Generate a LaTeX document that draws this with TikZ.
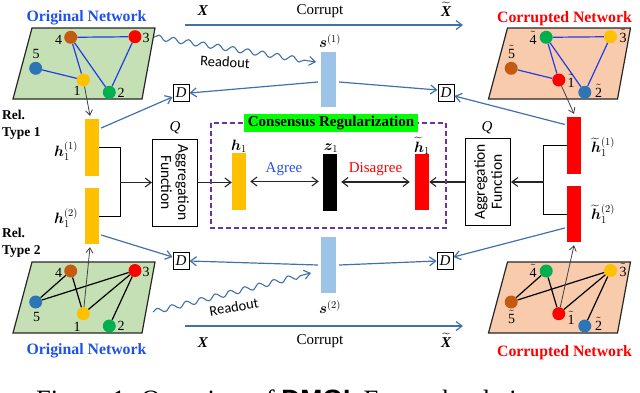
\RequirePackage{fix-cm}
\documentclass[tikz,border=0pt]{standalone}
\usepackage{amsmath}
\usepackage{bm}
\usepackage{fontspec}
\setmainfont{Liberation Serif}
\newfontfamily\calib{Carlito}
\newfontfamily\helv{Liberation Sans}
\usetikzlibrary{arrows.meta,decorations.pathmorphing,calc}
\definecolor{tblue}{RGB}{30,80,235}
\definecolor{arblue}{RGB}{65,113,170}
\definecolor{gfill}{RGB}{197,224,180}
\definecolor{sfill}{RGB}{248,203,173}
\definecolor{nbrown}{RGB}{197,90,17}
\definecolor{nblue}{RGB}{46,117,182}
\definecolor{nyel}{RGB}{255,192,0}
\definecolor{ngreen}{RGB}{0,176,80}
\definecolor{sblue}{RGB}{157,195,230}
\definecolor{cpurple}{RGB}{112,48,160}
\definecolor{edgeblue}{RGB}{35,60,230}
\definecolor{cgreen}{RGB}{0,255,0}
\definecolor{agblue}{RGB}{40,80,235}
\begin{document}
\begin{tikzpicture}[x=1pt,y=-1pt,
  every node/.style={inner sep=0pt},
  gn/.style={circle, fill=#1, minimum size=13pt, inner sep=0pt},
  lab/.style={font=\fontsize{14}{14}\selectfont, anchor=base},
  para/.style={draw=black!85, line width=1.2pt, line join=miter},
  ebl/.style={draw=edgeblue, line width=1.2pt},
  ebk/.style={draw=black, line width=1.2pt},
  vbar/.style={fill=#1, minimum width=14pt, inner sep=0pt},
  dbox/.style={draw, line width=1pt, minimum width=16pt, minimum height=17pt, font=\fontsize{15}{15}\selectfont\itshape},
  agg/.style={draw, line width=1pt, minimum width=87pt, minimum height=45pt, align=center, font=\calib\fontsize{15.5}{17}\selectfont},
  barr/.style={draw=arblue, line width=1.2pt, -{Straight Barb[length=6pt,width=9pt]}},
  karr/.style={draw=black!85, line width=1.1pt, -{Straight Barb[length=6pt,width=9pt]}},
  kbarr/.style={draw=black!85, line width=1.1pt, {Straight Barb[length=6pt,width=9pt]}-{Straight Barb[length=6pt,width=9pt]}},
  narr/.style={draw=black!75, line width=0.8pt, -{Straight Barb[length=5pt,width=7pt]}},
  wavy/.style={draw=arblue, line width=1.1pt, decorate, decoration={snake, amplitude=2.6pt, segment length=15pt, post length=6pt}, -{Straight Barb[length=6pt,width=9pt]}},
  mth/.style={font=\fontsize{15}{18}\selectfont},
  ttl/.style={font=\bfseries\fontsize{15.8}{18}\selectfont, anchor=base},
  rel/.style={font=\bfseries\fontsize{13.5}{15}\selectfont, anchor=base west},
  std/.style={font=\fontsize{15}{15}\selectfont, anchor=base},
]
\useasboundingbox (0,0) rectangle (640,392);
\clip (0,0) rectangle (640,392);

% ---------- top-left original network ----------
\draw[para, fill=gfill] (32,28) -- (155,28) -- (142,99) -- (13,99) -- cycle;
\node[gn=nbrown] (a4) at (70.7,37.3) {};
\node[gn=red] (a3) at (135,36.7) {};
\node[gn=nblue] (a5) at (35.7,68.3) {};
\node[gn=nyel] (a1) at (83.3,80) {};
\node[gn=ngreen] (a2) at (109.3,92.3) {};
\draw[ebl] (a4) -- (a3) (a4) -- (a1) (a4) -- (a2) (a3) -- (a2) (a5) -- (a1);
\node[lab] (a4l) at (58.5,44) {4};
\node[lab] (a3l) at (146,42) {3};
\node[lab] (a5l) at (36,58) {5};
\node[lab] (a1l) at (77,95) {1};
\node[lab] (a2l) at (121,97) {2};
\node[ttl, text=tblue] (t1) at (86.5,21.5) {Original Network};

% ---------- top-right corrupted network ----------
\draw[para, fill=sfill] (507.5,28) -- (630.5,28) -- (617.5,99) -- (488.5,99) -- cycle;
\node[gn=ngreen] (b4) at (546.2,37.3) {};
\node[gn=nyel] (b3) at (610.5,36.7) {};
\node[gn=nbrown] (b5) at (511.2,68.3) {};
\node[gn=red] (b1) at (558.8,80) {};
\node[gn=nblue] (b2) at (584.8,92.3) {};
\draw[ebl] (b4) -- (b3) (b4) -- (b1) (b4) -- (b2) (b3) -- (b2) (b5) -- (b1);
\node[lab] (b4l) at (533,44) {$\tilde{\text{4}}$};
\node[lab] (b3l) at (623,42) {$\tilde{\text{3}}$};
\node[lab] (b5l) at (511.5,58) {$\tilde{\text{5}}$};
\node[lab] (b1l) at (571,87) {$\tilde{\text{1}}$};
\node[lab] (b2l) at (598.5,97) {$\tilde{\text{2}}$};
\node[ttl, text=red] (t2) at (564.5,22) {Corrupted Network};

% ---------- bottom-left original network ----------
\draw[para, fill=gfill] (32,262) -- (155,262) -- (142,333) -- (13,333) -- cycle;
\node[gn=nbrown] (c4) at (70.7,271) {};
\node[gn=red] (c3) at (135,270.5) {};
\node[gn=nblue] (c5) at (35.7,302) {};
\node[gn=nyel] (c1) at (83.3,313.7) {};
\node[gn=ngreen] (c2) at (109.3,326) {};
\draw[ebk] (c4) -- (c5) (c4) -- (c1) (c5) -- (c3) (c1) -- (c3) (c2) -- (c3);
\node[lab] (c4l) at (58.5,277) {4};
\node[lab] (c3l) at (146,276) {3};
\node[lab] (c5l) at (36.5,321) {5};
\node[lab] (c1l) at (77,331) {1};
\node[lab] (c2l) at (121,330) {2};
\node[ttl, text=tblue] (t3) at (86.5,354) {Original Network};

% ---------- bottom-right corrupted network ----------
\draw[para, fill=sfill] (507.5,262) -- (630.5,262) -- (617.5,333) -- (488.5,333) -- cycle;
\node[gn=ngreen] (d4) at (546.2,271) {};
\node[gn=nyel] (d3) at (610.5,270.5) {};
\node[gn=nbrown] (d5) at (511.2,302) {};
\node[gn=red] (d1) at (558.8,313.7) {};
\node[gn=nblue] (d2) at (584.8,326) {};
\draw[ebk] (d4) -- (d5) (d4) -- (d1) (d5) -- (d3) (d1) -- (d3) (d2) -- (d3);
\node[lab] (d4l) at (533,277) {$\tilde{\text{4}}$};
\node[lab] (d3l) at (623,276) {$\tilde{\text{3}}$};
\node[lab] (d5l) at (511.5,323) {$\tilde{\text{5}}$};
\node[lab] (d1l) at (571,324) {$\tilde{\text{1}}$};
\node[lab] (d2l) at (598.5,330) {$\tilde{\text{2}}$};
\node[ttl, text=red] (t4) at (564.5,356) {Corrupted Network};

% ---------- corrupt arrows ----------
\coordinate (xa1) at (185,25); \coordinate (xb1) at (463,25);
\draw[barr] (xa1) -- (xb1);
\node[std, font=\fontsize{15}{15}\selectfont\bfseries\itshape] (X1) at (203,15) {X};
\node[std] (cor1) at (320,14) {Corrupt};
\node[std] (Xt1) at (446,16) {$\widetilde{\text{\bfseries\itshape X}}$};
\coordinate (xa2) at (185,326); \coordinate (xb2) at (463,326);
\draw[barr] (xa2) -- (xb2);
\node[std, font=\fontsize{15}{15}\selectfont\bfseries\itshape] (X2) at (203,347) {X};
\node[std] (cor2) at (320,344) {Corrupt};
\node[std] (Xt2) at (446,347) {$\widetilde{\text{\bfseries\itshape X}}$};

% ---------- summary vectors ----------
\node[vbar=sblue, minimum width=15pt, minimum height=55pt] (s1) at (328.5,79.5) {};
\node[mth] (s1l) at (330,41) {$\bm{s}^{(1)}$};
\node[vbar=sblue, minimum width=15pt, minimum height=56pt] (s2) at (328.5,265) {};
\node[mth] (s2l) at (330,307) {$\bm{s}^{(2)}$};

\coordinate (r1s) at (154,37); \coordinate (r1e) at (316,62);
\draw[wavy] (r1s) -- (r1e);
\node[font=\calib\fontsize{14.5}{15}\selectfont, rotate=-3] (rd1) at (225,62) {Readout};
\coordinate (r2s) at (153,312); \coordinate (r2e) at (311,273);
\draw[wavy] (r2s) -- (r2e);
\node[font=\calib\fontsize{14.5}{15}\selectfont, rotate=10] (rd2) at (234,307) {Readout};

% ---------- discriminators ----------
\node[dbox] (DL1) at (181,93) {D};
\node[dbox] (DR1) at (446,93) {D};
\node[dbox] (DL2) at (181,261) {D};
\node[dbox] (DR2) at (445,261) {D};

% ---------- embedding bars ----------
\node[vbar=nyel, minimum height=57pt] (y1) at (92,147.5) {};
\node[vbar=nyel, minimum height=56pt] (y2) at (92,216) {};
\node[vbar=red, minimum height=57pt] (r1) at (574,145.5) {};
\node[vbar=red, minimum height=56pt] (r2) at (574,214) {};
\node[vbar=nyel, minimum height=57pt] (h1) at (239,181.5) {};
\node[vbar=black, minimum height=57pt] (z1) at (330,182.5) {};
\node[vbar=red, minimum height=56pt] (ht) at (422,182) {};

\node[mth] (y1l) at (66,151) {$\bm{h}_1^{(1)}$};
\node[mth] (y2l) at (66,218) {$\bm{h}_1^{(2)}$};
\node[mth] (r1l) at (603,147) {$\widetilde{\bm{h}}_1^{(1)}$};
\node[mth] (r2l) at (603,214) {$\widetilde{\bm{h}}_1^{(2)}$};
\node[mth] (h1l) at (239,146) {$\bm{h}_1$};
\node[mth] (z1l) at (331,148) {$\bm{z}_1$};
\node[mth] (htl) at (422,146) {$\widetilde{\bm{h}}_1$};

\node[rel] (rel1a) at (2,119.5) {Rel.};
\node[rel] (rel1b) at (2,136.5) {Type 1};
\node[rel] (rel2a) at (2,237) {Rel.};
\node[rel] (rel2b) at (2,254) {Type 2};

% ---------- network to bars ----------
\draw[narr] (a1) -- ([xshift=-2pt,yshift=3pt]y1.north);
\draw[narr] (c1) -- ([xshift=-2pt,yshift=-3pt]y2.south);
\draw[narr] (b1) -- ([yshift=3pt]r1.north);
\draw[narr] (d1) -- ([yshift=-3pt]r2.south);

% ---------- arrows to discriminators ----------
\draw[barr] ([xshift=-3pt,yshift=-2.5pt]s1.west) -- (DL1.east);
\draw[barr] ([xshift=3pt,yshift=-2.5pt]s1.east) -- ([yshift=3pt]DR1.west);
\draw[barr] ([xshift=-3pt]s2.west) -- (DL2.east);
\draw[barr] ([xshift=3pt]s2.east) -- (DR2.west);
\draw[barr] ([xshift=2pt,yshift=19.5pt]y1.east) -- ([yshift=-4pt]DL1.west);
\draw[barr] ([xshift=2pt,yshift=-19pt]y2.east) -- ([yshift=4pt]DL2.west);
\draw[barr] ([xshift=-2pt,yshift=21pt]r1.west) -- ([yshift=-3pt]DR1.east);
\draw[barr] ([xshift=-2pt,yshift=-14pt]r2.west) -- ([yshift=4pt]DR2.east);

% ---------- aggregation ----------
\node[agg, rotate=-90] (aggL) at (175,182.5) {Aggregation\\Function};
\node[agg, rotate=90] (aggR) at (488,182) {Aggregation\\Function};
\node[font=\fontsize{15}{15}\selectfont\itshape] (qL) at (175,128) {Q};
\node[font=\fontsize{15}{15}\selectfont\itshape] (qR) at (487,128) {Q};

\draw[line width=1pt] (y1.east) -- ++(21,0) |- (y2.east);
\coordinate (bl) at (120,182.5);
\draw[karr] (bl) -- (aggL.south);
\draw[karr] (aggL.north) -- (aggL.north -| h1.west);
\draw[line width=1pt] (r1.west) -- ++(-23,0) |- (r2.west);
\coordinate (br) at (544,182);
\draw[karr] (br) -- (aggR.south);
\draw[karr] (aggR.north) -- (aggR.north -| ht.east);

% ---------- consensus ----------
\draw[cpurple, dash pattern=on 5pt off 3pt, line width=1.3pt] (211,123) rectangle (446,228);
\node[fill=cgreen, minimum width=174pt, minimum height=18pt, font=\bfseries\fontsize{15}{15}\selectfont] (cons) at (331,123) {Consensus Regularization};
\draw[kbarr] ([xshift=4pt]h1.east) -- ([xshift=-4pt]h1.east -| z1.west);
\draw[kbarr] ([xshift=4pt,yshift=0.5pt]z1.east) -- ([xshift=-5pt,yshift=0.5pt]z1.east -| ht.west);
\node[std, text=agblue] (agr) at (284,172) {Agree};
\node[std, text=red] (dis) at (375.5,172) {Disagree};

% ---------- caption (cut by the frame) ----------
\node[anchor=base west, font=\fontsize{26.5}{30}\selectfont] (cap) at (36,408) {Figure 1: Overview of {\helv\bfseries DMGI}. For each relation type};
\end{tikzpicture}
\end{document}
